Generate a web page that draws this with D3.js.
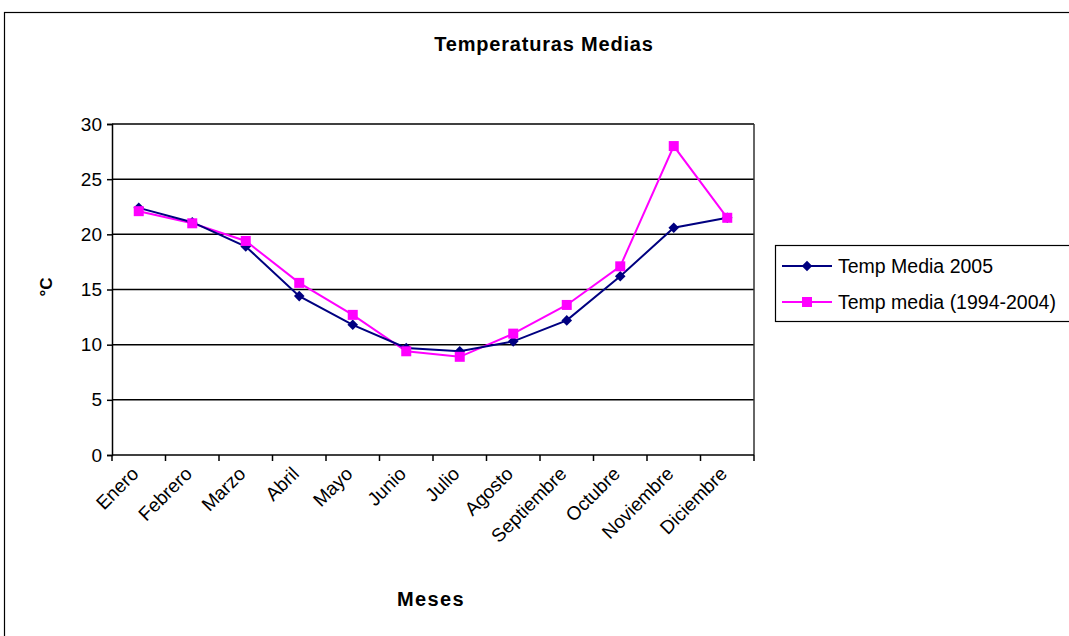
<!DOCTYPE html>
<html><head><meta charset="utf-8">
<script src="https://cdn.jsdelivr.net/npm/d3@7"></script>
<style>
body{margin:0;background:#fff;}
svg{display:block;font-family:"Liberation Sans",Arial,sans-serif;}
</style></head>
<body>
<svg id="c" width="1069" height="636"></svg>
<script>
const months = ["Enero","Febrero","Marzo","Abril","Mayo","Junio","Julio","Agosto","Septiembre","Octubre","Noviembre","Diciembre"];
const temp2005 = [22.4,21.1,18.9,14.4,11.8,9.7,9.4,10.3,12.2,16.2,20.6,21.5];
const tempMedia = [22.1,21.0,19.4,15.6,12.7,9.4,8.9,11.0,13.6,17.1,28.0,21.5];
const yTicks = [0,5,10,15,20,25,30];
const seriesNames = ["Temp Media 2005","Temp media (1994-2004)"];

const svg = d3.select("#c");
const L=112, R=754, T=124, B=455;
svg.append("rect").attr("x",4.5).attr("y",12.5).attr("width",1100).attr("height",700)
  .attr("fill","#fff").attr("stroke","#000").attr("stroke-width",1.2);

const x = d3.scaleBand().domain(months).range([L,R]);
const y = d3.scaleLinear().domain([0,30]).range([B,T]);

// gridlines
svg.append("g").selectAll("line").data(yTicks.filter(d=>d>0)).join("line")
  .attr("x1",L).attr("x2",R).attr("y1",d=>y(d)).attr("y2",d=>y(d))
  .attr("stroke","#000").attr("stroke-width",1.5);
// right border
svg.append("line").attr("x1",R).attr("x2",R).attr("y1",T).attr("y2",B).attr("stroke","#333").attr("stroke-width",1.5);

// y axis
const ya = svg.append("g").attr("transform",`translate(${L},0)`)
  .call(d3.axisLeft(y).tickValues(yTicks).tickSize(5).tickPadding(5));
ya.select(".domain").attr("stroke","#000").attr("stroke-width",1.5);
ya.selectAll(".tick line").attr("stroke","#000").attr("stroke-width",1.5);
ya.selectAll("text").attr("font-size",19).attr("fill","#000").attr("font-family","Liberation Sans, Arial, sans-serif");

// x axis
svg.append("line").attr("x1",L).attr("x2",R).attr("y1",B).attr("y2",B).attr("stroke","#000").attr("stroke-width",1.5);
const bounds = months.map(m=>x(m)).concat([R]);
svg.append("g").selectAll("line").data(bounds).join("line")
  .attr("x1",d=>d).attr("x2",d=>d).attr("y1",B).attr("y2",B+6)
  .attr("stroke","#000").attr("stroke-width",1.5);
svg.append("g").selectAll("text").data(months).join("text")
  .attr("transform",d=>`translate(${x(d)+x.bandwidth()/2+1},${B+20}) rotate(-45)`)
  .attr("text-anchor","end").attr("font-size",19).text(d=>d);

// lines
const cx = d=>x(d)+x.bandwidth()/2;
const line = d3.line().x((d,i)=>cx(months[i])).y(d=>y(d));
svg.append("path").datum(tempMedia).attr("d",line).attr("fill","none").attr("stroke","#FF00FF").attr("stroke-width",2);
svg.append("path").datum(temp2005).attr("d",line).attr("fill","none").attr("stroke","#000080").attr("stroke-width",2);
const diamond = d3.symbol().type(d3.symbolSquare).size(56);
svg.append("g").selectAll("path").data(temp2005).join("path")
  .attr("d",diamond).attr("transform",(d,i)=>`translate(${cx(months[i])},${y(d)}) rotate(45)`).attr("fill","#000080");
svg.append("g").selectAll("rect").data(tempMedia).join("rect")
  .attr("x",(d,i)=>cx(months[i])-5).attr("y",d=>y(d)-5).attr("width",10).attr("height",10).attr("fill","#FF00FF");

// title & axis labels
svg.append("text").attr("x",544).attr("y",51).attr("text-anchor","middle").attr("font-weight","bold").attr("font-size",20).attr("letter-spacing",0.8).text("Temperaturas Medias");
svg.append("text").attr("transform","translate(52,287) rotate(-90)").attr("text-anchor","middle").attr("font-weight","bold").attr("font-size",17).text("°C");
svg.append("text").attr("x",431).attr("y",606).attr("text-anchor","middle").attr("font-weight","bold").attr("font-size",20).attr("letter-spacing",1.4).text("Meses");

// legend
const lg = svg.append("g");
lg.append("rect").attr("x",775.5).attr("y",245.5).attr("width",300).attr("height",76).attr("fill","#fff").attr("stroke","#000").attr("stroke-width",1.2);
const ly=[266,302];
seriesNames.forEach((n,i)=>{
  const col = i===0?"#000080":"#FF00FF";
  lg.append("line").attr("x1",782).attr("x2",832).attr("y1",ly[i]).attr("y2",ly[i]).attr("stroke",col).attr("stroke-width",2);
  if(i===0) lg.append("path").attr("d",diamond).attr("transform",`translate(807,${ly[i]}) rotate(45)`).attr("fill",col);
  else lg.append("rect").attr("x",802).attr("y",ly[i]-5).attr("width",10).attr("height",10).attr("fill",col);
  lg.append("text").attr("x",838).attr("y",ly[i]+7).attr("font-size",19.5).text(n);
});
</script>
</body></html>
